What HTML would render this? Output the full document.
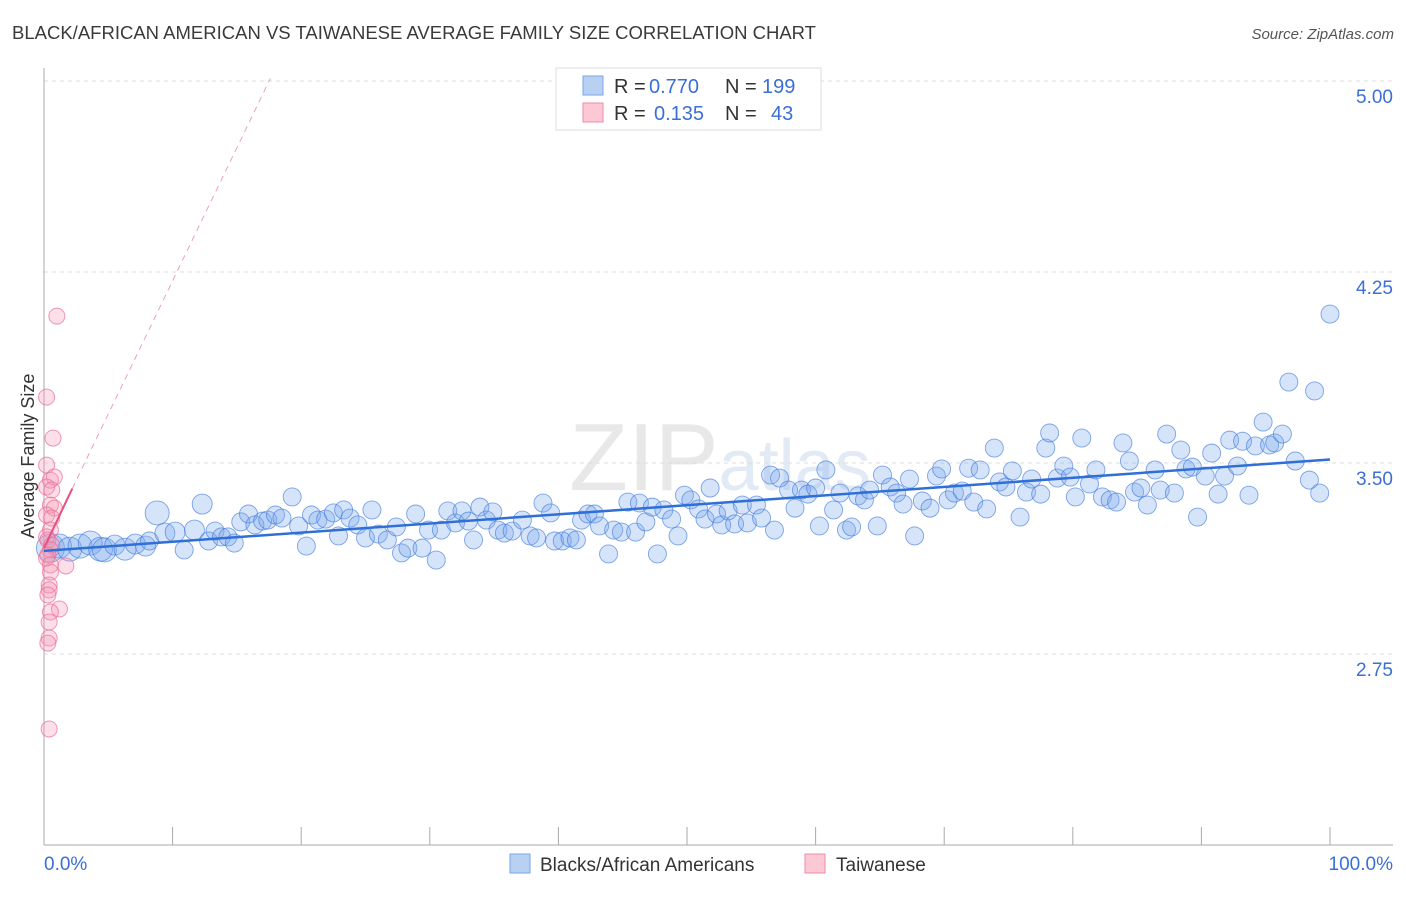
<!DOCTYPE html>
<html><head><meta charset="utf-8"><style>
body{margin:0;background:#fff;font-family:"Liberation Sans",sans-serif}
svg text{font-family:"Liberation Sans",sans-serif}
</style></head><body>
<svg id="chart" width="1406" height="892" xmlns="http://www.w3.org/2000/svg">
<text x="12" y="39" font-size="18" fill="#3a3a3a" textLength="804" lengthAdjust="spacingAndGlyphs">BLACK/AFRICAN AMERICAN VS TAIWANESE AVERAGE FAMILY SIZE CORRELATION CHART</text>
<text x="1394" y="39" font-size="15" fill="#555" text-anchor="end" font-style="italic">Source: ZipAtlas.com</text>
<text x="720" y="490" font-size="96" fill="#e8e8e8" text-anchor="middle" font-family="Liberation Serif">ZIP<tspan fill="#e2eaf5" font-family="Liberation Sans" font-size="72">atlas</tspan></text>
<g id="grid"></g>
<g id="axes"></g>
<g id="pts"></g>
<g id="trend"></g>
<text transform="translate(34,456) rotate(-90)" font-size="18" fill="#333" text-anchor="middle">Average Family Size</text>
<g>
<rect x="556" y="68" width="265" height="62" fill="#fff" stroke="#ddd"/>
<rect x="583" y="76" width="20" height="19" fill="#b8d1f3" stroke="#7aa6e6"/>
<rect x="583" y="103" width="20" height="19" fill="#fcc8d6" stroke="#f08aa8"/>
<text x="614" y="93" font-size="20" fill="#333">R =</text>
<text x="649" y="93" font-size="20" fill="#3b6fd4">0.770</text>
<text x="725" y="93" font-size="20" fill="#333">N =</text>
<text x="762" y="93" font-size="20" fill="#3b6fd4">199</text>
<text x="614" y="120" font-size="20" fill="#333">R =</text>
<text x="654" y="120" font-size="20" fill="#3b6fd4">0.135</text>
<text x="725" y="120" font-size="20" fill="#333">N =</text>
<text x="771" y="120" font-size="20" fill="#3b6fd4">43</text>
</g>
<g>
<rect x="510" y="854" width="20" height="19" fill="#b8d1f3" stroke="#7aa6e6"/>
<text x="540" y="871" font-size="19" fill="#333">Blacks/African Americans</text>
<rect x="805" y="854" width="20" height="19" fill="#fcc8d6" stroke="#f08aa8"/>
<text x="836" y="871" font-size="19" fill="#333">Taiwanese</text>
</g>
</svg>
<script>
const yTicks=[5.00,4.25,3.50,2.75];
const yTickLabels=["5.00","4.25","3.50","2.75"];
const xTickLabels=["0.0%","100.0%"];
const blueX=[0.5,1.2,2.0,2.8,3.6,4.4,4.7,5.5,6.3,7.1,7.9,8.2,8.8,9.4,10.2,10.9,11.7,12.3,12.8,13.3,13.8,14.3,14.8,15.3,15.9,16.4,17.0,17.4,18.0,18.5,19.3,19.8,20.4,20.8,21.3,21.9,22.5,22.9,23.3,23.8,24.4,25.0,25.5,26.0,26.7,27.4,27.8,28.3,28.9,29.4,29.9,30.5,30.9,31.4,32.0,32.5,33.0,33.4,33.9,34.4,34.9,35.3,35.8,36.4,37.2,37.8,38.3,38.8,39.4,39.7,40.3,40.9,41.4,41.8,42.3,42.8,43.2,43.9,44.3,44.9,45.4,46.0,46.3,46.8,47.3,47.7,48.2,48.8,49.3,49.8,50.3,50.9,51.4,51.8,52.3,52.7,53.2,53.7,54.3,54.7,55.4,55.8,56.5,56.8,57.2,57.9,58.4,58.9,59.4,60.0,60.3,60.8,61.4,61.9,62.4,62.8,63.3,63.8,64.2,64.8,65.2,65.8,66.3,66.8,67.3,67.7,68.3,68.9,69.4,69.8,70.3,70.8,71.4,71.9,72.3,72.8,73.3,73.9,74.3,74.8,75.3,75.9,76.4,76.8,77.5,77.9,78.2,78.8,79.3,79.8,80.2,80.7,81.3,81.8,82.3,82.9,83.4,83.9,84.4,84.8,85.3,85.8,86.4,86.8,87.3,87.9,88.4,88.8,89.3,89.7,90.3,90.8,91.3,91.8,92.2,92.8,93.2,93.7,94.2,94.8,95.3,95.7,96.3,96.8,97.3,98.4,98.8,99.2,100];
const blueY=[3.166,3.174,3.162,3.174,3.186,3.162,3.159,3.178,3.162,3.182,3.174,3.194,3.304,3.225,3.229,3.159,3.237,3.339,3.194,3.233,3.210,3.210,3.186,3.269,3.300,3.257,3.272,3.276,3.296,3.284,3.367,3.253,3.174,3.296,3.276,3.280,3.304,3.214,3.316,3.284,3.257,3.206,3.316,3.221,3.198,3.249,3.147,3.166,3.300,3.166,3.237,3.119,3.237,3.312,3.265,3.312,3.272,3.198,3.327,3.276,3.308,3.237,3.225,3.233,3.276,3.214,3.206,3.343,3.304,3.194,3.194,3.206,3.198,3.276,3.300,3.300,3.253,3.143,3.237,3.229,3.347,3.229,3.343,3.269,3.327,3.143,3.316,3.280,3.214,3.374,3.355,3.320,3.280,3.402,3.300,3.257,3.312,3.261,3.335,3.265,3.335,3.284,3.453,3.237,3.441,3.394,3.323,3.394,3.378,3.402,3.253,3.473,3.316,3.382,3.237,3.249,3.371,3.355,3.394,3.253,3.453,3.406,3.382,3.339,3.437,3.214,3.351,3.323,3.449,3.477,3.355,3.382,3.390,3.480,3.347,3.473,3.320,3.559,3.426,3.406,3.469,3.288,3.386,3.437,3.378,3.559,3.618,3.441,3.488,3.445,3.367,3.598,3.418,3.473,3.367,3.355,3.347,3.579,3.508,3.386,3.402,3.335,3.473,3.394,3.614,3.382,3.551,3.477,3.484,3.288,3.449,3.539,3.378,3.449,3.590,3.488,3.586,3.374,3.567,3.661,3.571,3.579,3.614,3.818,3.508,3.433,3.783,3.382,4.085];
const blueSize=[14,12,12,12,12,12,12,10,11,10,10,9,12,10,10,9,10,10];
const pinkX=[1.0,0.2,0.7,0.2,0.5,0.8,0.2,0.6,0.5,0.8,0.2,0.6,0.5,0.2,0.3,0.6,0.5,0.3,0.2,0.5,1.7,0.5,0.4,0.4,0.3,1.2,0.5,0.4,0.4,0.3,0.4];
const pinkY=[4.077,3.759,3.598,3.492,3.433,3.445,3.406,3.394,3.335,3.323,3.296,3.284,3.237,3.210,3.198,3.178,3.159,3.139,3.127,3.100,3.096,3.072,3.021,3.002,2.982,2.927,2.915,2.876,2.813,2.793,2.456];
const blueTrend=[[0,3.155],[100,3.514]];
const pinkTrend=[[0,3.166],[2.2,3.40],[17.6,5.01]];

const NS="http://www.w3.org/2000/svg";
const X=p=>44+p*12.86, Y=v=>81+(5-v)*254.7;
function mk(tag,attrs,parent){const e=document.createElementNS(NS,tag);for(const k in attrs)e.setAttribute(k,attrs[k]);parent.appendChild(e);return e;}
const grid=document.getElementById('grid'),axes=document.getElementById('axes'),pts=document.getElementById('pts'),trend=document.getElementById('trend');
yTicks.forEach((v,i)=>{
  const l=mk('line',{x1:44,x2:1393,y1:Y(v),y2:Y(v),stroke:'#ddd','stroke-dasharray':'4,4'},grid);
  
  
  const t=mk('text',{x:1393,y:Y(v)+22,'font-size':19,fill:'#3b6fd4','text-anchor':'end'},grid);
  t.textContent=yTickLabels[i];
  
  
});
const ax=mk('line',{x1:44,x2:1393,y1:845,y2:845,stroke:'#aaa'},axes);


const ay=mk('line',{x1:44,x2:44,y1:68,y2:845,stroke:'#aaa'},axes);


for(let i=0;i<=10;i++){
  const tk=mk('line',{x1:X(i*10),x2:X(i*10),y1:827,y2:845,stroke:'#aaa'},axes);
  
  
}
const t0=mk('text',{x:44,y:870,'font-size':19,fill:'#3b6fd4'},axes);t0.textContent=xTickLabels[0];


const t1=mk('text',{x:1393,y:870,'font-size':19,fill:'#3b6fd4','text-anchor':'end'},axes);t1.textContent=xTickLabels[1];


blueX.forEach((x,i)=>{
  const c=mk('circle',{cx:X(x),cy:Y(blueY[i]),r:blueSize[i]||9,fill:'rgba(120,165,235,0.3)',stroke:'rgba(60,120,220,0.65)','stroke-width':0.9},pts);
  
  
});
pinkX.forEach((x,i)=>{
  const c=mk('circle',{cx:X(x),cy:Y(pinkY[i]),r:8,fill:'rgba(245,150,180,0.3)',stroke:'rgba(235,110,150,0.7)','stroke-width':1},pts);
  
  
});
const bl=mk('line',{x1:X(blueTrend[0][0]),y1:Y(blueTrend[0][1]),x2:X(blueTrend[1][0]),y2:Y(blueTrend[1][1]),stroke:'#2f6fd6','stroke-width':2.5},trend);


const ps=mk('line',{x1:X(pinkTrend[0][0]),y1:Y(pinkTrend[0][1]),x2:X(pinkTrend[1][0]),y2:Y(pinkTrend[1][1]),stroke:'#e8507e','stroke-width':2},trend);


const pd=mk('line',{x1:X(pinkTrend[1][0]),y1:Y(pinkTrend[1][1]),x2:X(pinkTrend[2][0]),y2:Y(pinkTrend[2][1]),stroke:'#eea0b8','stroke-width':1,'stroke-dasharray':'6,5'},trend);


</script>
</body></html>
